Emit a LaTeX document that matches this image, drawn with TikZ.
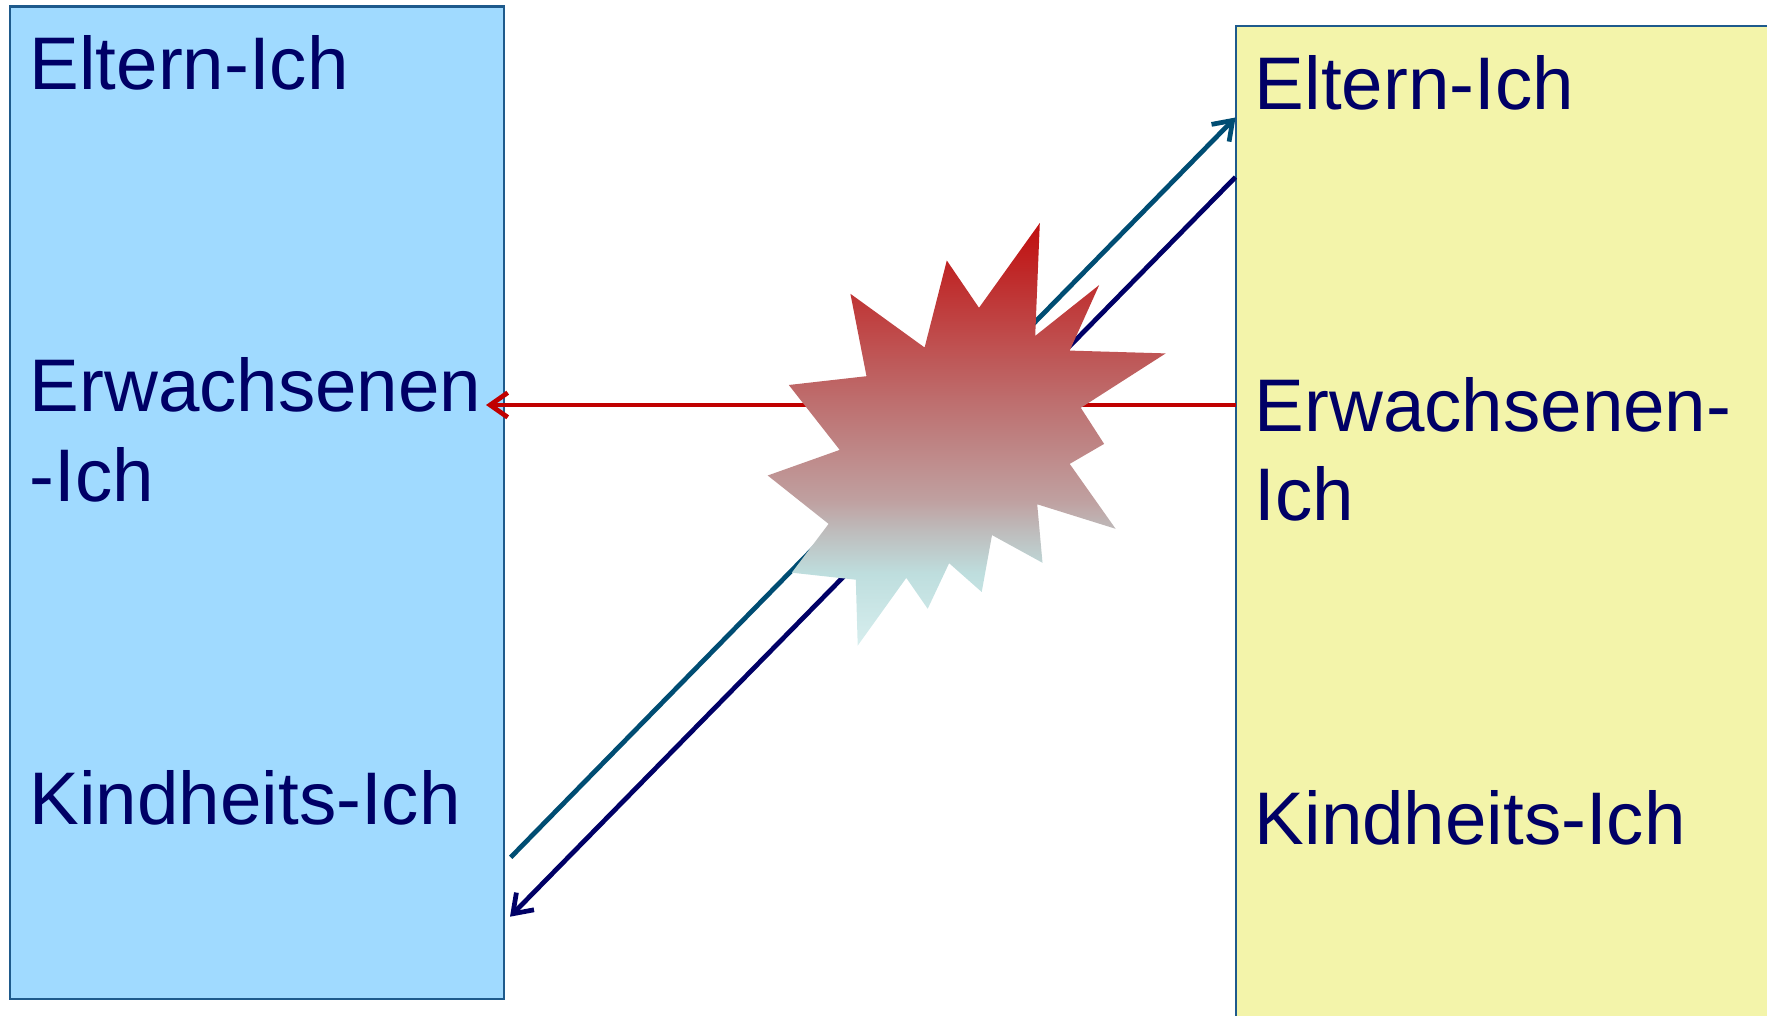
\documentclass[tikz,border=0pt]{standalone}
\usepackage{fontspec}
\setmainfont{Liberation Sans}
\usepackage{xcolor}
\usetikzlibrary{arrows.meta}

\definecolor{ichblau}{RGB}{160,218,255}
\definecolor{ichgelb}{RGB}{243,244,170}
\definecolor{rahmen}{RGB}{30,90,140}
\definecolor{schrift}{RGB}{0,0,102}
\definecolor{petrol}{RGB}{0,77,115}
\definecolor{marine}{RGB}{0,0,102}
\definecolor{konflikt}{RGB}{192,0,0}
\definecolor{blitzA}{RGB}{192,14,14}
\definecolor{blitzB}{RGB}{190,110,110}
\definecolor{blitzC}{RGB}{191,160,160}
\definecolor{blitzD}{RGB}{190,190,190}
\definecolor{blitzE}{RGB}{190,222,222}
\definecolor{blitzF}{RGB}{215,238,238}

% Verlauf fuer den Blitz (Pfad liegt zwischen 25bp und 75bp)
\pgfdeclareverticalshading{blitzverlauf}{100bp}{color(0bp)=(blitzF); color(25bp)=(blitzF);
  color(33.5bp)=(blitzE); color(38.25bp)=(blitzD); color(42.2bp)=(blitzC);
  color(54bp)=(blitzB); color(75bp)=(blitzA); color(100bp)=(blitzA)}

\tikzset{
  ichbox/.style={draw=rahmen, line width=0.6pt, rectangle, inner sep=0pt},
  ichtext/.style={anchor=base west, inner sep=0pt, text=schrift,
    font=\fontsize{21.2}{25.5}\selectfont},
  pfeil/.style={line width=1.35pt, -{Straight Barb[length=5pt,width=7pt]}}
}

\begin{document}
\begin{tikzpicture}[x=0.01cm, y=-0.01cm]
  \useasboundingbox (0,0) rectangle (1767,1016);
  \clip (0,0) rectangle (1767,1016);

  % Die beiden Personen
  \node[ichbox, fill=ichblau, minimum width=4.94cm, minimum height=9.917cm] (links) at (257,502.6) {};
  \node[ichbox, fill=ichgelb, minimum width=5.64cm, minimum height=10.3cm] (rechts) at (1518,541) {};

  % Ich-Zustaende links
  \node[ichtext] (elternL) at (29,89.5) {Eltern-Ich};
  \node[ichtext] (erwL) at (29,412) {Erwachsenen};
  \node[ichtext] (erwLb) at (29,501.5) {-Ich};
  \node[ichtext] (kindL) at (29,824.3) {Kindheits-Ich};

  % Ich-Zustaende rechts
  \node[ichtext] (elternR) at (1254,109.4) {Eltern-Ich};
  \node[ichtext] (erwR) at (1254,431.4) {Erwachsenen-};
  \node[ichtext] (erwRb) at (1254,520.9) {Ich};
  \node[ichtext] (kindR) at (1254,844) {Kindheits-Ich};

  % Pfeilenden
  \coordinate (rotA) at (1235.5,405);
  \coordinate (rotB) at (486,405);
  \coordinate (petrolA) at (510.7,857.3);
  \coordinate (petrolB) at (1235.5,117.5);
  \coordinate (marineA) at (1235.5,177.1);
  \coordinate (marineB) at (510,916.7);

  % Transaktionen
  \draw[pfeil, draw=konflikt] (rotA) -- (rotB);
  \draw[pfeil, draw=petrol] (petrolA) -- (petrolB);
  \draw[pfeil, draw=marine] (marineA) -- (marineB);

  % Blitz
  \shade[shading=blitzverlauf]
    (1039.8,223.0) -- (1035.2,335.9) -- (1099.2,285.0) -- (1069.7,350.6)
    -- (1165.7,353.4) -- (1080.8,407.8) -- (1104.1,443.9) -- (1069.7,463.9)
    -- (1115.6,528.8) -- (1037.2,504.3) -- (1042.5,562.8) -- (992.0,535.1)
    -- (981.7,592.0) -- (949.1,563.2) -- (927.7,608.8) -- (906.3,577.9)
    -- (857.7,645.6) -- (855.8,579.7) -- (791.8,572.7) -- (828.6,523.9)
    -- (767.7,475.5) -- (839.7,449.9) -- (788.8,385.0) -- (866.5,376.2)
    -- (850.4,293.8) -- (924.6,347.5) -- (946.8,260.5) -- (979.0,307.8) -- cycle;
\end{tikzpicture}
\end{document}
